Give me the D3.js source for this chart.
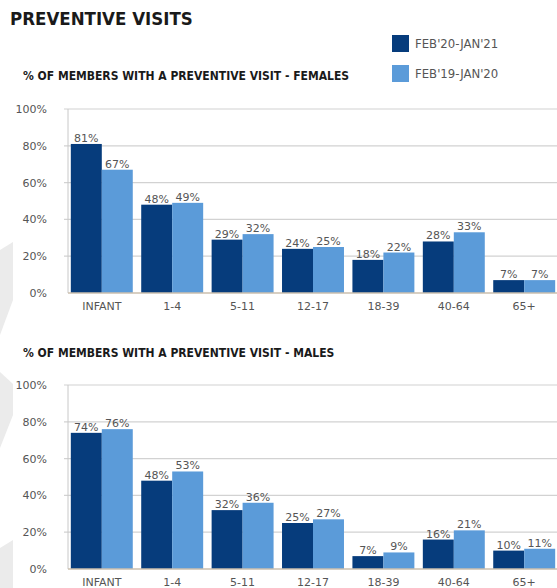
<!DOCTYPE html>
<html>
<head>
<meta charset="utf-8">
<script src="https://cdn.jsdelivr.net/npm/d3@7"></script>
<style>
  body { margin: 0; background: #fff; }
  svg { display: block; }
</style>
</head>
<body>
<script>
const ageGroups = ['INFANT', '1-4', '5-11', '12-17', '18-39', '40-64', '65+'];
const seriesNames = ["FEB'20-JAN'21", "FEB'19-JAN'20"];
const females2021 = [81, 48, 29, 24, 18, 28, 7];
const females2020 = [67, 49, 32, 25, 22, 33, 7];
const males2021 = [74, 48, 32, 25, 7, 16, 10];
const males2020 = [76, 53, 36, 27, 9, 21, 11];
const yTicks = [0, 20, 40, 60, 80, 100];

const colors = ['#063c7c', '#5b9bd9'];
const width = 557, height = 588;
const narrow = "'Liberation Sans Narrow', 'DejaVu Sans Condensed', sans-serif";
const sans = "'DejaVu Sans', Verdana, sans-serif";

const svg = d3.select('body').append('svg')
    .attr('width', width)
    .attr('height', height);

// faint background shapes on the left edge
const deco = svg.append('g').attr('fill', '#ebebeb');
['M0,250 L13,242 L13,300 L0,335 Z',
 'M0,372 L13,384 L13,415 L0,448 Z',
 'M0,548 L13,540 L13,588 L0,588 Z'].forEach(d => deco.append('path').attr('d', d));

svg.append('text')
    .attr('x', 10)
    .attr('y', 25)
    .style('font-family', narrow)
    .style('font-weight', 'bold')
    .style('font-size', '18.5px')
    .style('fill', '#1a1a1a')
    .text('PREVENTIVE VISITS');

// legend
const legend = svg.append('g');
seriesNames.forEach((name, i) => {
  legend.append('rect')
      .attr('x', 392)
      .attr('y', 35 + i * 30)
      .attr('width', 17)
      .attr('height', 17)
      .attr('fill', colors[i]);
  legend.append('text')
      .attr('x', 415)
      .attr('y', 48 + i * 30)
      .style('font-family', narrow)
      .style('font-size', '13px')
      .style('fill', '#555')
      .text(name);
});

const x = d3.scaleBand()
    .domain(ageGroups)
    .range([68, 558])
    .paddingInner(0.12)
    .paddingOuter(0.04);

const sub = d3.scaleBand()
    .domain([0, 1])
    .range([0, x.bandwidth()]);

function drawChart(title, titleY, top, bottom, s1, s2) {
  svg.append('text')
      .attr('x', 23)
      .attr('y', titleY)
      .style('font-family', narrow)
      .style('font-weight', 'bold')
      .style('font-size', '12px')
      .style('fill', '#1a1a1a')
      .text(title);

  const y = d3.scaleLinear().domain([0, 100]).range([bottom, top]);
  const g = svg.append('g');

  g.selectAll('.grid')
      .data(yTicks.filter(d => d > 0))
      .enter()
      .append('line')
      .attr('x1', 64)
      .attr('x2', width)
      .attr('y1', d => y(d))
      .attr('y2', d => y(d))
      .attr('stroke', '#d2d2d2')
      .attr('stroke-width', 1.2);

  g.append('line')
      .attr('x1', 68).attr('x2', 68)
      .attr('y1', y(100)).attr('y2', y(0))
      .attr('stroke', '#c8c8c8');

  const yAxis = d3.axisLeft(y)
      .tickValues(yTicks)
      .tickSize(0)
      .tickPadding(21)
      .tickFormat(d => d + '%');

  g.append('g')
      .attr('transform', 'translate(68,0)')
      .call(yAxis)
      .call(a => a.select('.domain').remove())
      .selectAll('text')
      .style('font-family', sans)
      .style('font-size', '11px')
      .style('fill', '#555');

  const rows = ageGroups.map((a, i) => ({ group: a, values: [s1[i], s2[i]] }));

  const groups = g.selectAll('.grp')
      .data(rows)
      .enter()
      .append('g')
      .attr('transform', d => `translate(${x(d.group)},0)`);

  groups.selectAll('rect')
      .data(d => d.values)
      .enter()
      .append('rect')
      .attr('x', (d, i) => sub(i))
      .attr('width', sub.bandwidth())
      .attr('y', d => y(d))
      .attr('height', d => y(0) - y(d))
      .attr('fill', (d, i) => colors[i]);

  groups.selectAll('.lbl')
      .data(d => d.values)
      .enter()
      .append('text')
      .attr('x', (d, i) => sub(i) + sub.bandwidth() / 2)
      .attr('y', d => y(d) - 2)
      .attr('text-anchor', 'middle')
      .style('font-family', sans)
      .style('font-size', '11px')
      .style('fill', '#555')
      .text(d => d + '%');

  g.append('line')
      .attr('x1', 68).attr('x2', width)
      .attr('y1', y(0)).attr('y2', y(0))
      .attr('stroke', '#cbbfae')
      .attr('stroke-width', 1.5);

  const xAxis = d3.axisBottom(x).tickSize(0).tickPadding(9);
  g.append('g')
      .attr('transform', `translate(0,${y(0)})`)
      .call(xAxis)
      .call(a => a.select('.domain').remove())
      .selectAll('text')
      .style('font-family', sans)
      .style('font-size', '11px')
      .style('fill', '#555');
}

drawChart('% OF MEMBERS WITH A PREVENTIVE VISIT - FEMALES', 80, 109, 293, females2021, females2020);
drawChart('% OF MEMBERS WITH A PREVENTIVE VISIT - MALES', 357, 385, 569, males2021, males2020);
</script>
</body>
</html>
